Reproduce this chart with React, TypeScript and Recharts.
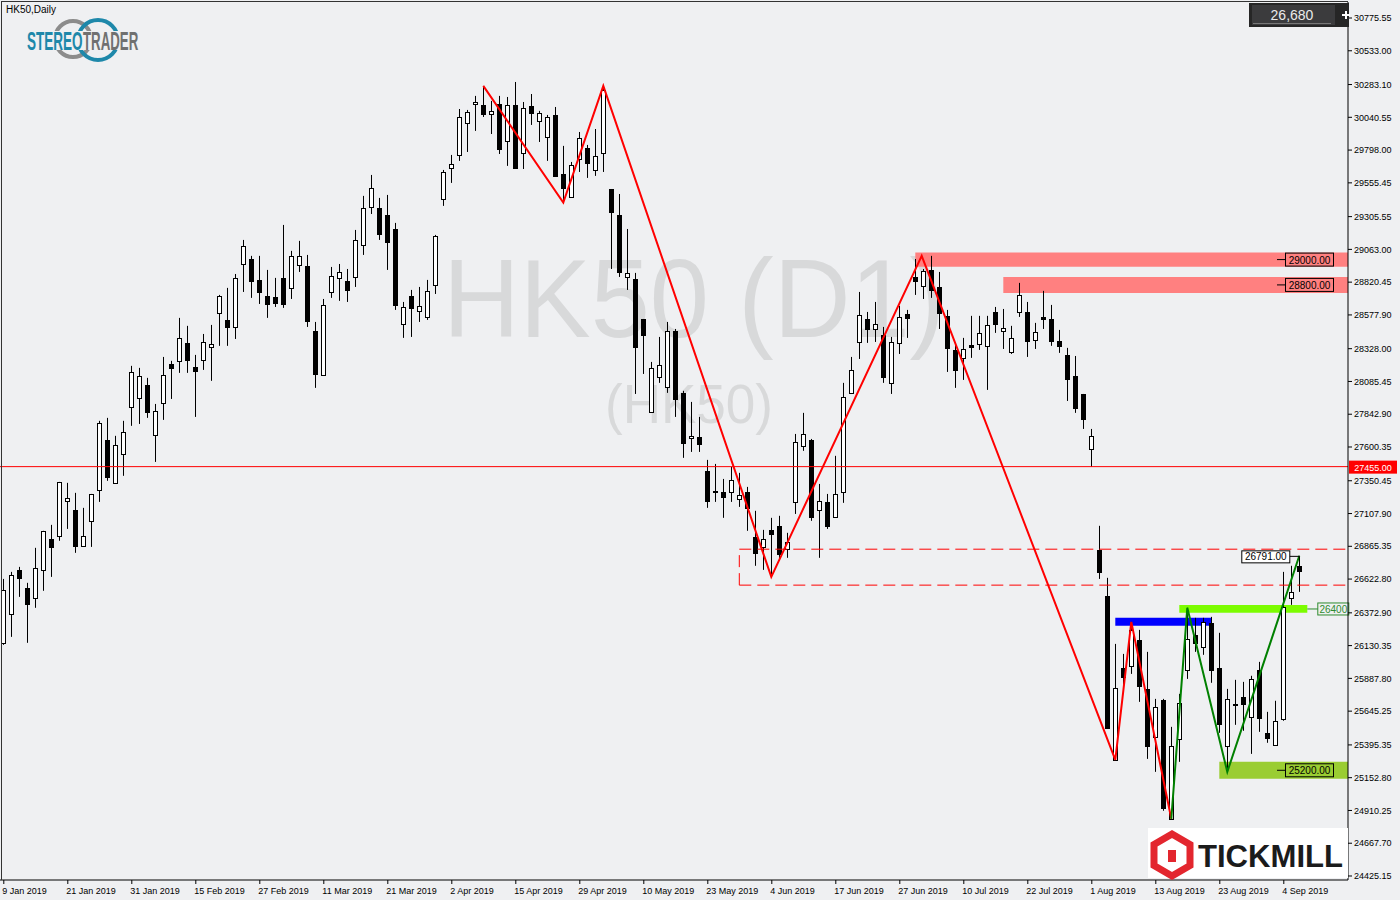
import React from 'react';
import { ComposedChart, Bar, Line, XAxis, YAxis, ReferenceLine, ReferenceArea, ReferenceDot } from 'recharts';

// bottom axis labels, one every 8 bars
const tickLabels = [
  '9 Jan 2019', '21 Jan 2019', '31 Jan 2019', '15 Feb 2019', '27 Feb 2019', '11 Mar 2019', '21 Mar 2019',
  '2 Apr 2019', '15 Apr 2019', '29 Apr 2019', '10 May 2019', '23 May 2019', '4 Jun 2019', '17 Jun 2019',
  '27 Jun 2019', '10 Jul 2019', '22 Jul 2019', '1 Aug 2019', '13 Aug 2019', '23 Aug 2019', '4 Sep 2019',
];
const tickEvery = 8;

const priceTicks = [
  30775.55, 30533.0, 30283.1, 30040.55, 29798.0, 29555.45, 29305.55, 29063.0, 28820.45, 28577.9, 28328.0,
  28085.45, 27842.9, 27600.35, 27350.45, 27107.9, 26865.35, 26622.8, 26372.9, 26130.35, 25887.8, 25645.25,
  25395.35, 25152.8, 24910.25, 24667.7, 24425.15,
];

const opens = [
  26151, 26365, 26691, 26558, 26484, 26691, 26920, 26943, 27202, 27135, 26869, 27054, 27283, 27653, 27335, 27549,
  27897, 27964, 28060, 27690, 27927, 28215, 28238, 28371, 28193, 28245, 28341, 28593, 28541, 28489, 28955, 28992,
  28837, 28719, 28711, 28852, 28778, 28948, 28941, 28460, 28134, 28748, 28852, 28830, 28859, 29096, 29377, 29370,
  29318, 29214, 28511, 28719, 28608, 28563, 28800, 29436, 29666, 29762, 29999, 30139, 30132, 30065, 30139, 29866,
  30132, 29777, 30125, 30014, 29895, 30058, 29621, 29451, 29733, 29814, 29651, 29777, 29510, 29318, 28859, 28844,
  28548, 27860, 28119, 28045, 28460, 28001, 27668, 27675, 27424, 27272, 27268, 27268, 27217, 27268, 26935, 26861,
  26987, 27017, 26846, 27194, 27609, 27653, 27135, 27194, 27083, 27268, 28001, 28378, 28548, 28474, 28430, 28075,
  28371, 28585, 28859, 28793, 28911, 28785, 28571, 28319, 28260, 28356, 28363, 28349, 28600, 28460, 28304, 28600,
  28600, 28393, 28563, 28548, 28386, 28282, 28127, 27993, 27587, 26839, 26499, 25285, 25966, 25981, 26173, 25810,
  25455, 25729, 24848, 25440, 25951, 26210, 26121, 26299, 25966, 25389, 25701, 25751, 25603, 25951, 25485, 25396,
  25588, 26484, 26721,
];
const highs = [
  26624, 26676, 26713, 26595, 26854, 26980, 27024, 27342, 27335, 27261, 27150, 27253, 27794, 27816, 27683, 27794,
  28201, 28186, 28112, 27919, 28267, 28238, 28556, 28497, 28282, 28437, 28504, 28726, 28778, 28881, 29133, 29015,
  29015, 28911, 28852, 29244, 29052, 29126, 29022, 28526, 28696, 28933, 28955, 28918, 29207, 29459, 29614, 29444,
  29466, 29259, 28674, 28763, 28785, 28837, 29170, 29651, 29762, 30102, 30095, 30199, 30273, 30162, 30199, 30191,
  30302, 30154, 30213, 30088, 30058, 30117, 29829, 29710, 29932, 29836, 29954, 30273, 29510, 29473, 29214, 28889,
  28548, 28230, 28415, 28526, 28474, 28016, 27934, 27823, 27505, 27475, 27364, 27453, 27409, 27305, 27128, 26987,
  27076, 27091, 26965, 27697, 27853, 27660, 27327, 27253, 27535, 28075, 28267, 28748, 28600, 28674, 28489, 28415,
  28645, 28615, 28992, 28918, 29015, 28896, 28615, 28371, 28408, 28571, 28571, 28571, 28637, 28622, 28497, 28815,
  28674, 28519, 28756, 28652, 28467, 28334, 28274, 27993, 27734, 27017, 26632, 26143, 26069, 26306, 26247, 26084,
  25736, 25736, 25529, 25773, 26410, 26336, 26336, 26343, 26225, 25810, 25877, 25862, 25907, 26010, 25640, 25722,
  26676, 26721, 26795,
];
const lows = [
  26136, 26195, 26491, 26151, 26410, 26536, 26639, 26906, 26994, 26817, 26861, 26861, 27194, 27350, 27335, 27387,
  27757, 27771, 27816, 27490, 27801, 27956, 28149, 28149, 27823, 28171, 28090, 28349, 28349, 28400, 28748, 28704,
  28659, 28556, 28637, 28630, 28696, 28896, 28489, 28038, 28134, 28704, 28682, 28674, 28785, 29022, 29325, 29133,
  28911, 28615, 28408, 28415, 28526, 28541, 28733, 29385, 29555, 29718, 29784, 29940, 30043, 29917, 29769, 29681,
  29658, 29658, 29984, 29858, 29718, 29599, 29399, 29451, 29636, 29592, 29607, 29636, 28918, 28859, 28763, 27993,
  28141, 27853, 28075, 28001, 27823, 27520, 27564, 27564, 27150, 27194, 27076, 27194, 27157, 26980, 26721, 26691,
  26639, 26758, 26780, 27105, 27572, 27054, 26780, 26994, 27083, 27187, 28001, 28252, 28371, 28378, 28075, 27993,
  28289, 28408, 28726, 28696, 28704, 28474, 28156, 28038, 28097, 28260, 28319, 28023, 28445, 28326, 28289, 28563,
  28267, 28326, 28474, 28349, 28297, 27941, 27853, 27734, 27453, 26624, 25522, 25285, 25803, 25921, 25714, 25292,
  25196, 24908, 24848, 25270, 25884, 26084, 26062, 25855, 25485, 25196, 25544, 25500, 25329, 25492, 25411, 25396,
  25574, 26432, 26528,
];
const closes = [
  26543, 26654, 26632, 26439, 26706, 26980, 26861, 27342, 27224, 26869, 26943, 27253, 27779, 27379, 27616, 27712,
  28156, 28127, 27860, 27868, 28134, 28186, 28408, 28245, 28164, 28378, 28363, 28719, 28489, 28852, 29089, 28830,
  28748, 28659, 28667, 28659, 29015, 29015, 28534, 28141, 28652, 28867, 28896, 28763, 29133, 29370, 29518, 29177,
  29118, 28652, 28637, 28630, 28645, 28756, 29163, 29636, 29695, 30043, 30080, 30154, 30065, 30088, 29806, 30132,
  29666, 30110, 30073, 30073, 30043, 29607, 29518, 29688, 29888, 29703, 29755, 30243, 29340, 28896, 28889, 28341,
  28430, 28186, 28208, 28460, 27956, 27631, 27683, 27623, 27202, 27265, 27231, 27357, 27246, 27150, 26817, 26920,
  26957, 26809, 26898, 27638, 27697, 27083, 27202, 27017, 27253, 27971, 28171, 28578, 28474, 28511, 28119, 28378,
  28563, 28556, 28830, 28904, 28763, 28593, 28334, 28171, 28326, 28341, 28445, 28504, 28511, 28482, 28408, 28726,
  28386, 28452, 28548, 28386, 28349, 28104, 27890, 27808, 27683, 26676, 25522, 25818, 25899, 26247, 25833, 25389,
  25677, 24930, 25389, 25707, 26180, 26151, 26306, 25951, 25551, 25736, 25697, 25699, 25884, 25596, 25448, 25574,
  26417, 26528, 26680,
];

// zigzag pivots (bar index, price)
const zigRedIdx = [60, 70, 75, 96, 114.8, 139, 141, 146];
const zigRedVal = [30273, 29410, 30273, 26639, 29015, 25285, 26306, 24848];
const zigGreenIdx = [146, 148, 153, 162];
const zigGreenVal = [24848, 26410, 25196, 26795];

const lastPrice = 26680;
const redLevel = 27455;
const dashTop = 26844;
const dashBottom = 26578;
const dashStart = 92;
const swingHigh = 26791;

const xMin = -0.4125;
const xMax = 168.0875;

const data = opens.map((o, i) => ({
  i,
  open: o,
  high: highs[i],
  low: lows[i],
  close: closes[i],
  range: [lows[i], highs[i]],
}));
const zigRed = zigRedIdx.map((i, k) => ({ i, v: zigRedVal[k] }));
const zigGreen = zigGreenIdx.map((i, k) => ({ i, v: zigGreenVal[k] }));

const AXIS_FONT = '"Liberation Sans", Arial, sans-serif';

const Candle = (props: any) => {
  const { x, y, width, height, payload } = props;
  if (!payload || payload.high == null) return null;
  const cx = Math.floor(x + width / 2) + 0.5;
  const top = Math.min(y, y + height);
  const h = Math.abs(height);
  const k = h / (payload.high - payload.low);
  const yo = top + (payload.high - payload.open) * k;
  const yc = top + (payload.high - payload.close) * k;
  const bull = payload.close >= payload.open;
  const bt = Math.round(Math.min(yo, yc)) + 0.5;
  const bb = Math.max(Math.round(Math.max(yo, yc)) + 0.5, bt + 1);
  return (
    <g>
      <line x1={cx} x2={cx} y1={top} y2={top + h} stroke="#000" strokeWidth={1} />
      <rect x={cx - 2} y={bt} width={4} height={bb - bt} fill={bull ? '#fff' : '#000'} stroke="#000" strokeWidth={1} />
    </g>
  );
};

const XTick = (props: any) => {
  const { x, y, payload } = props;
  const label = tickLabels[Math.round(payload.value / tickEvery)];
  return (
    <g>
      <line x1={x + 0.5} x2={x + 0.5} y1={880} y2={884} stroke="#000" />
      <text x={x - 1} y={y + 6} fontSize={9} fontFamily={AXIS_FONT} fill="#000" textAnchor="start">
        {label}
      </text>
    </g>
  );
};

const ZoneTag = ({ viewBox, text, fill }: any) => {
  if (!viewBox) return null;
  const right = viewBox.x + viewBox.width;
  const cy = viewBox.y + viewBox.height / 2;
  return (
    <g>
      <line x1={right - 71} x2={right - 62} y1={cy} y2={cy} stroke="#000" />
      <rect x={right - 62.5} y={cy - 6.5} width={48} height={13} fill={fill} stroke="#000" />
      <text x={right - 38.5} y={cy + 4} fontSize={10} fontFamily={AXIS_FONT} fill="#000" textAnchor="middle">
        {text}
      </text>
    </g>
  );
};

const GreenTag = ({ viewBox }: any) => {
  if (!viewBox) return null;
  const right = viewBox.x + viewBox.width;
  const cy = viewBox.y + viewBox.height / 2;
  return (
    <g>
      <line x1={right} x2={right + 11} y1={cy} y2={cy} stroke="#2e8b2e" />
      <rect x={right + 10.5} y={cy - 6} width={31} height={12} fill="#eff0f2" stroke="#2e8b2e" />
      <text x={right + 26} y={cy + 4} fontSize={10} fontFamily={AXIS_FONT} fill="#2e8b2e" textAnchor="middle">
        26400
      </text>
    </g>
  );
};

const RedTag = ({ viewBox }: any) => {
  if (!viewBox) return null;
  const right = viewBox.x + viewBox.width;
  return (
    <g>
      <rect x={right + 1} y={viewBox.y - 6} width={48} height={13} fill="#ff0000" />
      <text x={right + 25} y={viewBox.y + 4} fontSize={9} fontFamily={AXIS_FONT} fill="#fff" textAnchor="middle">
        {redLevel.toFixed(2)}
      </text>
    </g>
  );
};

const HighTag = ({ viewBox }: any) => {
  if (!viewBox) return null;
  const cx = viewBox.x + viewBox.width / 2;
  const cy = viewBox.y + viewBox.height / 2;
  return (
    <g>
      <line x1={cx - 10} x2={cx} y1={cy} y2={cy} stroke="#000" />
      <line x1={cx} x2={cx} y1={cy} y2={cy + 3} stroke="#000" />
      <rect x={cx - 57.5} y={cy - 5.5} width={48} height={12} fill="#fff" stroke="#000" />
      <text x={cx - 33.5} y={cy + 4} fontSize={10} fontFamily={AXIS_FONT} fill="#000" textAnchor="middle">
        {swingHigh.toFixed(2)}
      </text>
    </g>
  );
};

export default function App() {
  return (
    <div style={{ position: 'absolute', left: 0, top: 0, width: 1400, height: 900, background: '#eff0f2', overflow: 'hidden' }}>
      {/* watermark */}
      <svg width={1400} height={900} style={{ position: 'absolute', left: 0, top: 0 }}>
        <text x={443} y={337} fontSize={112} fontFamily={AXIS_FONT} fill="#d8d9da" textLength={502} lengthAdjust="spacingAndGlyphs">
          HK50 (D1)
        </text>
        <text x={605} y={423} fontSize={56} fontFamily={AXIS_FONT} fill="#d8d9da" textLength={168} lengthAdjust="spacingAndGlyphs">
          (HK50)
        </text>
      </svg>
      <div style={{ position: 'absolute', left: 0, top: 0 }}>
        <ComposedChart width={1400} height={900} data={data} margin={{ top: 2, right: 0, left: 0, bottom: 0 }}>
          <XAxis
            dataKey="i"
            type="number"
            domain={[xMin, xMax]}
            allowDataOverflow
            ticks={tickLabels.map((_, k) => k * tickEvery)}
            interval={0}
            height={20}
            stroke="#000"
            tickLine={false}
            tick={<XTick />}
          />
          <YAxis
            orientation="right"
            width={52}
            domain={[24395.5, 30894]}
            allowDataOverflow
            ticks={priceTicks}
            interval={0}
            stroke="#000"
            tickSize={4}
            tick={{ fontSize: 9, fontFamily: AXIS_FONT, fill: '#000' }}
            tickFormatter={(v: number) => v.toFixed(2)}
          />
          <ReferenceArea x1={114} y1={28935} y2={29040} fill="#ff8080" fillOpacity={1} stroke="none" ifOverflow="visible"
            label={(p: any) => <ZoneTag viewBox={p.viewBox} text="29000.00" fill="#ff8080" />} />
          <ReferenceArea x1={125} y1={28741} y2={28859} fill="#ff8080" fillOpacity={1} stroke="none" ifOverflow="visible"
            label={(p: any) => <ZoneTag viewBox={p.viewBox} text="28800.00" fill="#ff8080" />} />
          <ReferenceArea x1={152} y1={25145} y2={25270} fill="#9acd32" fillOpacity={1} stroke="none" ifOverflow="visible"
            label={(p: any) => <ZoneTag viewBox={p.viewBox} text="25200.00" fill="#9acd32" />} />
          <ReferenceArea x1={139} x2={151} y1={26277} y2={26336} fill="#0000ff" fillOpacity={1} stroke="none" ifOverflow="visible" />
          <ReferenceArea x1={147} x2={163} y1={26373} y2={26430} fill="#7cfc00" fillOpacity={1} stroke="none" ifOverflow="visible"
            label={(p: any) => <GreenTag viewBox={p.viewBox} />} />
          <ReferenceLine y={redLevel} stroke="#ff0000" strokeWidth={1} ifOverflow="visible"
            label={(p: any) => <RedTag viewBox={p.viewBox} />} />
          <ReferenceLine segment={[{ x: dashStart, y: dashTop }, { x: xMax, y: dashTop }]} stroke="#ff0000" strokeDasharray="12 6" ifOverflow="visible" />
          <ReferenceLine segment={[{ x: dashStart, y: dashBottom }, { x: xMax, y: dashBottom }]} stroke="#ff0000" strokeDasharray="12 6" ifOverflow="visible" />
          <ReferenceLine segment={[{ x: dashStart, y: dashBottom }, { x: dashStart, y: dashTop }]} stroke="#ff0000" strokeDasharray="12 6" ifOverflow="visible" />
          <Bar dataKey="range" barSize={5} shape={<Candle />} isAnimationActive={false} />
          <Line data={zigRed} dataKey="v" stroke="#ff0000" strokeWidth={2} dot={false} isAnimationActive={false} />
          <Line data={zigGreen} dataKey="v" stroke="#008000" strokeWidth={2} dot={false} isAnimationActive={false} />
          <ReferenceDot x={162} y={swingHigh} r={0} ifOverflow="visible" label={(p: any) => <HighTag viewBox={p.viewBox} />} />
        </ComposedChart>
      </div>
      {/* frame, title, logos, price box */}
      <svg width={1400} height={900} style={{ position: 'absolute', left: 0, top: 0, pointerEvents: 'none' }}>
        <line x1={1.5} x2={1.5} y1={1} y2={880} stroke="#333" />
        <line x1={1} x2={1348} y1={1.5} y2={1.5} stroke="#333" />
        <text x={6} y={13} fontSize={10} fontFamily={AXIS_FONT} fill="#000">HK50,Daily</text>
        <circle cx={73} cy={39} r={18} fill="none" stroke="#8c8c8c" strokeWidth={4} />
        <circle cx={98} cy={40} r={20} fill="none" stroke="#1e88aa" strokeWidth={4} />
        <rect x={26} y={31} width={114} height={19} fill="#eff0f2" />
        <text transform="translate(27,50) scale(0.52,1)" fontSize={26} fontFamily={AXIS_FONT} fontWeight={700} fill="#1e88aa">
          STEREO
        </text>
        <text transform="translate(83,50) scale(0.51,1)" fontSize={26} fontFamily={AXIS_FONT} fontWeight={700} fill="#707070">
          TRADER
        </text>
        <rect x={1249} y={3} width={100} height={24} fill="#262626" />
        <rect x={1252} y={5} width={83} height={20} fill="#3b3b3d" />
        <line x1={1253} x2={1331} y1={23.5} y2={23.5} stroke="#777" />
        <text x={1292} y={20} fontSize={14} fontFamily={AXIS_FONT} fill="#eaeaea" textAnchor="middle">
          {lastPrice.toLocaleString('en-US')}
        </text>
        <path d="M1342 15 h8 M1346 11 v8" stroke="#fff" strokeWidth={2} />
        <rect x={1148} y={828} width={200} height={50} fill="#fff" />
        <polygon points="1172,834 1190,844.5 1190,865.5 1172,876 1154,865.5 1154,844.5" fill="none" stroke="#e3262e" strokeWidth={7} />
        <rect x={1168} y={850} width={8} height={12} fill="#e3262e" />
        <text x={1198} y={867} fontSize={31} fontFamily={AXIS_FONT} fontWeight={700} fill="#1b1b1b" textLength={145} lengthAdjust="spacingAndGlyphs">
          TICKMILL
        </text>
      </svg>
    </div>
  );
}
